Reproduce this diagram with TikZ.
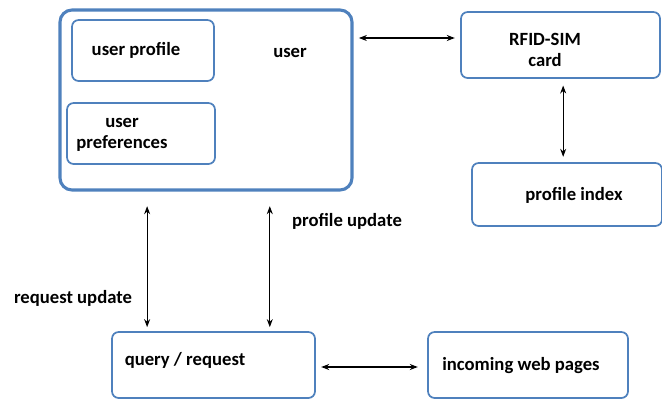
\documentclass[tikz,border=0pt]{standalone}
\usepackage{fontspec}
\setmainfont{Carlito}
\usetikzlibrary{arrows.meta}
\definecolor{boxblue}{RGB}{79,129,189}
\tikzset{
	box/.style={draw=boxblue, rounded corners=5pt, line width=1.3pt, inner sep=0pt},
	bigbox/.style={box, line width=2.3pt, rounded corners=9pt},
	lbl/.style={font=\bfseries\fontsize{14}{16}\selectfont, align=center, inner sep=0pt}
}
\begin{document}
\begin{tikzpicture}[x=0.75pt, y=-0.75pt, >={Stealth[length=6pt,width=4.5pt]}]
		\useasboundingbox (0,0) rectangle (662,400);
		\node[bigbox, minimum width=219pt, minimum height=135pt] (user) at (206,100) {};
		\node[box, minimum width=106.5pt, minimum height=45.75pt] (profile) at (143,50.5) {};
		\node[box, minimum width=111pt, minimum height=45.75pt] (prefs) at (141,133.5) {};
		\node[box, minimum width=149.25pt, minimum height=49.5pt] (rfid) at (560.5,45) {};
		\node[box, minimum width=142.5pt, minimum height=47.25pt] (index) at (567,194.5) {};
		\node[box, minimum width=152.25pt, minimum height=49.5pt] (query) at (213.5,365) {};
		\node[box, minimum width=150pt, minimum height=49.5pt] (web) at (528,365) {};

		\node[lbl] at (290,53) {user};
		\node[lbl] at (136,50) {user profile};
		\node[lbl] at (122,135) {user\\preferences};
		\node[lbl] at (545,50) {RFID-SIM\\card};
		\node[lbl] at (574,195) {profile index};
		\node[lbl] at (185,360) {query / request};
		\node[lbl] at (521,366) {incoming web pages};

		\draw [<->, line width=0.8pt, shorten <=4pt, shorten >=4pt] ([yshift=5.25pt]rfid.west -| user.east) -- ([yshift=5.25pt]rfid.west);
		\draw [<->, line width=0.8pt, shorten <=5pt, shorten >=4pt] ([xshift=2pt]rfid.south) -- ([xshift=2pt]rfid.south |- index.north);
		\draw [<->, line width=0.8pt, shorten <=11pt, shorten >=3pt] ([xshift=27pt]query.north west |- user.south) -- ([xshift=27pt]query.north west);
		\draw [<->, line width=0.8pt, shorten <=11pt, shorten >=3pt] ([xshift=119pt]query.north west |- user.south) -- ([xshift=119pt]query.north west);
		\draw [<->, line width=0.8pt, shorten <=4pt, shorten >=7pt] ([yshift=-1.5pt]query.east) -- ([yshift=-1.5pt]query.east -| web.west);

		\node[lbl] at (347,221) {profile update};
		\node[lbl] at (73,298) {request update};
	\end{tikzpicture}
\end{document}
